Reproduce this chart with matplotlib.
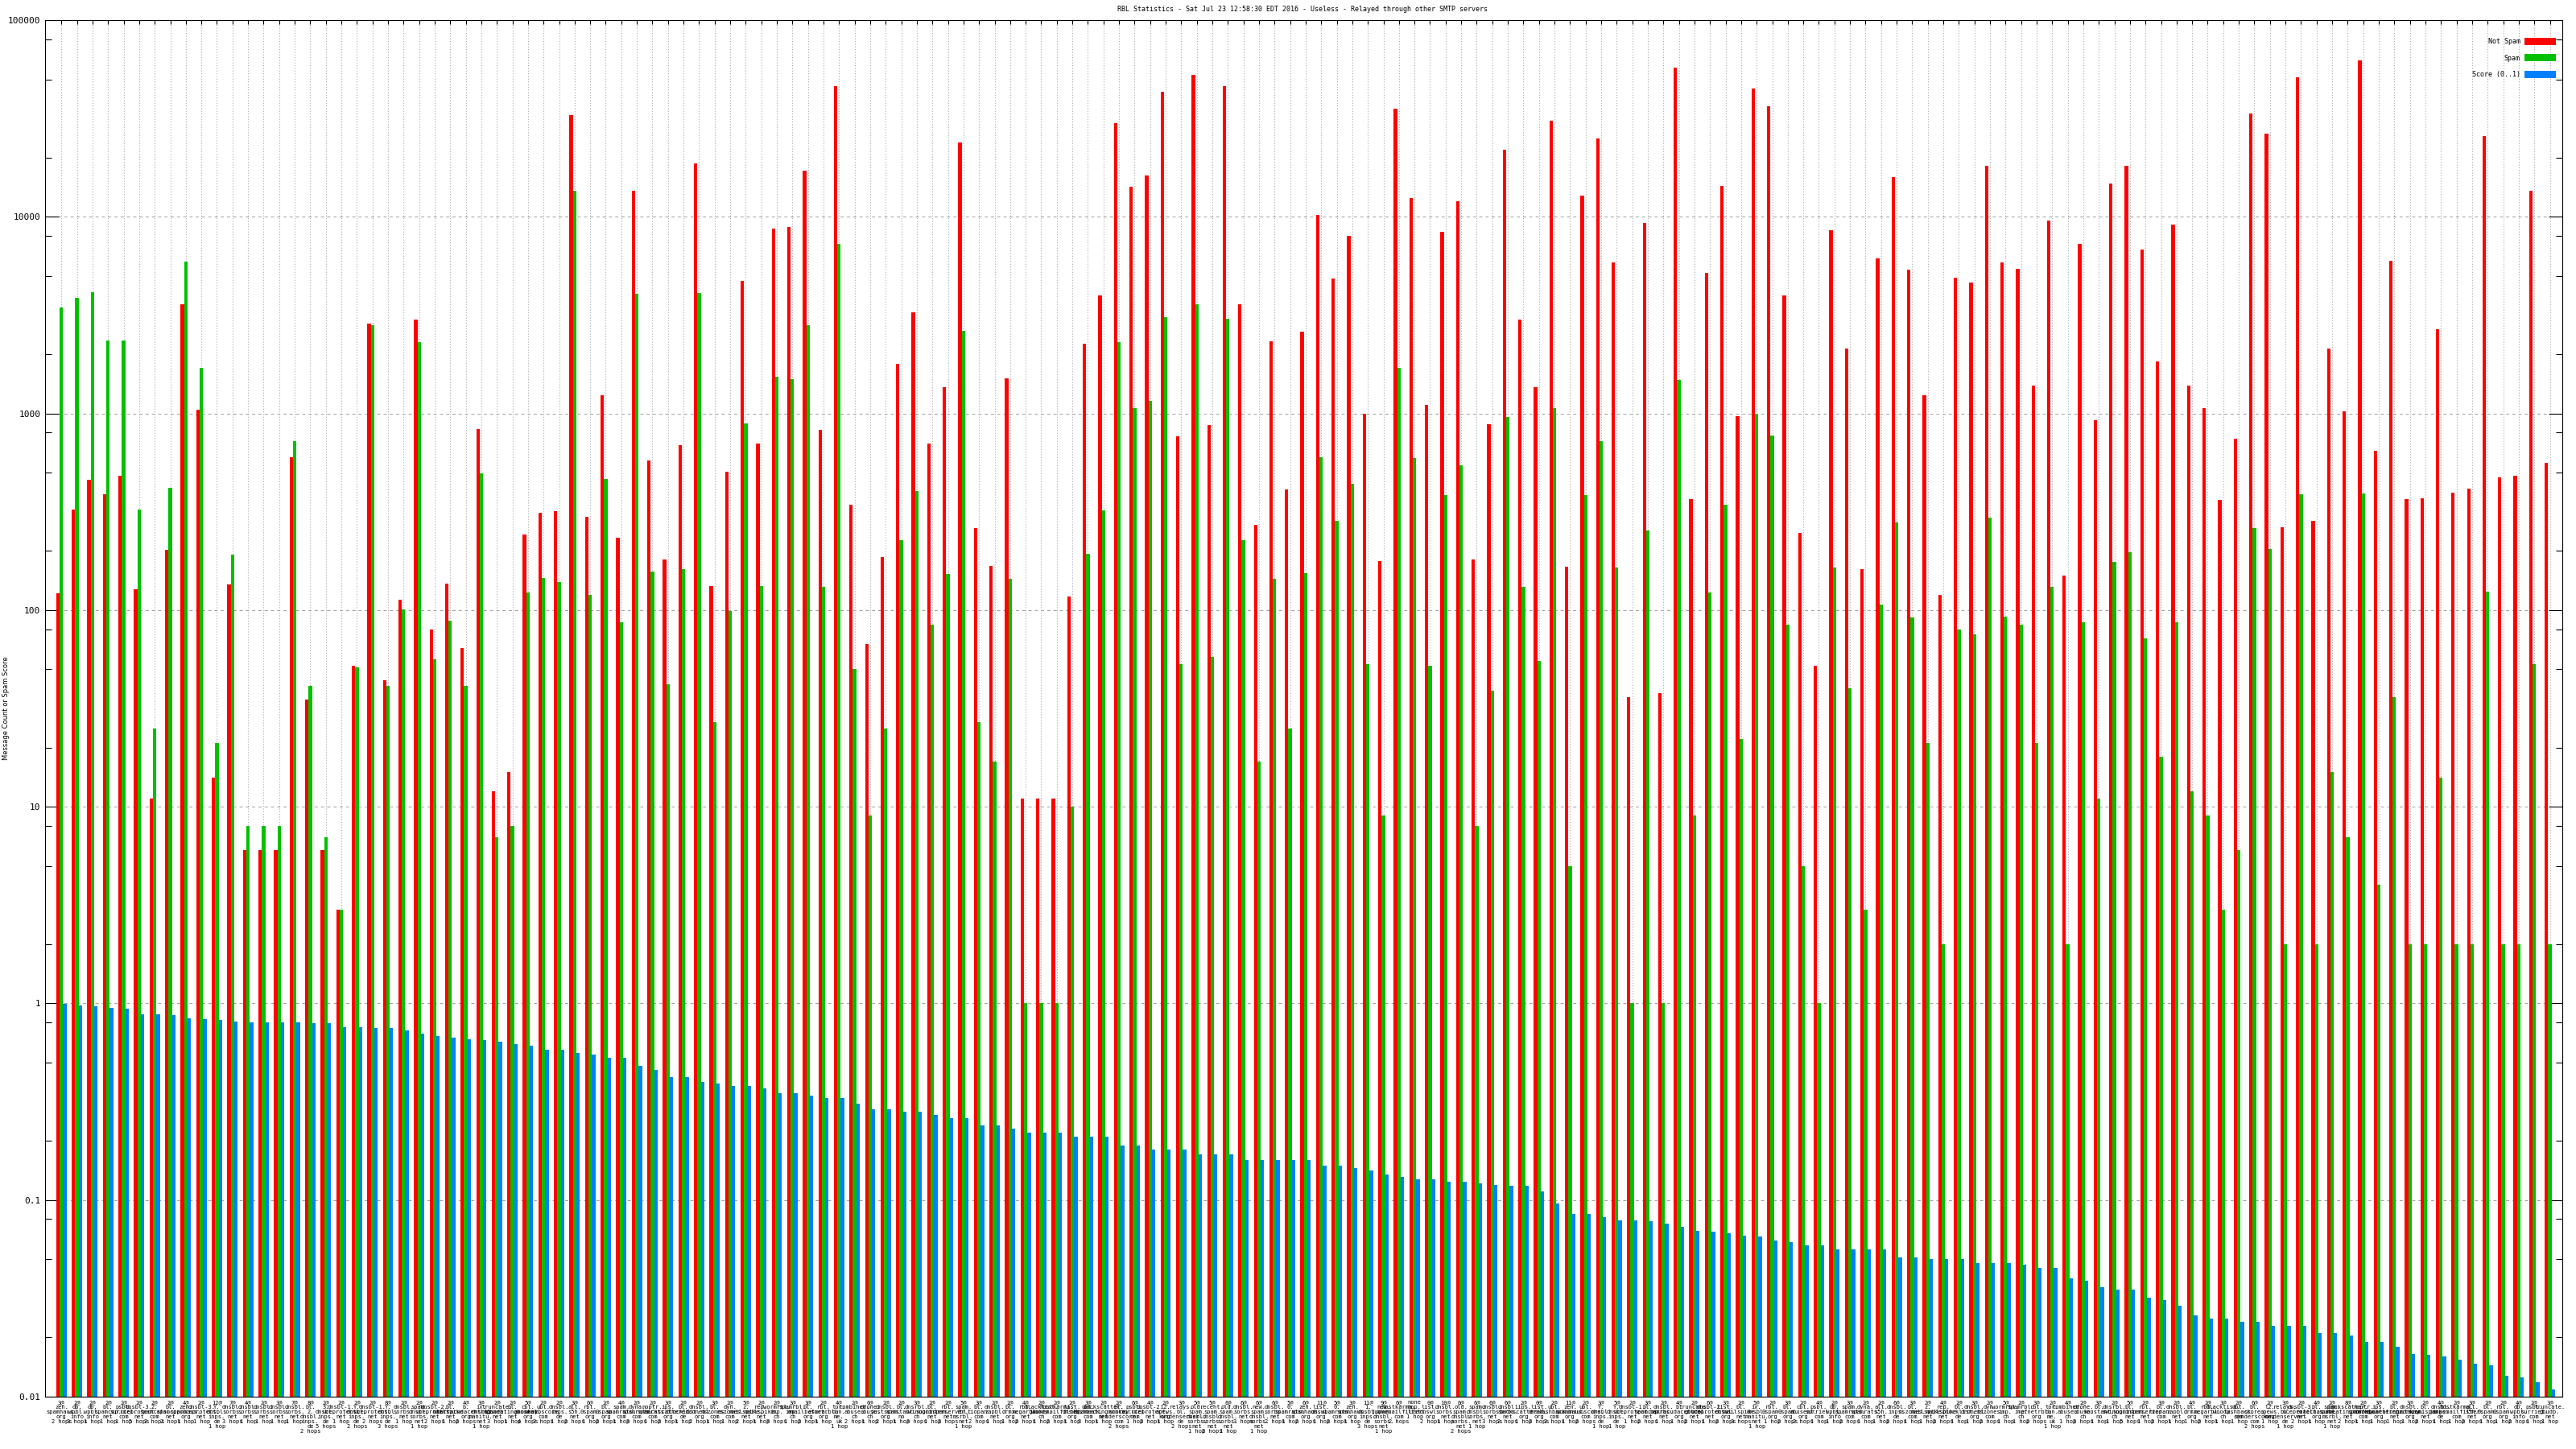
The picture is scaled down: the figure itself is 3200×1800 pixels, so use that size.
import numpy as np
import matplotlib
matplotlib.use('Agg')
import matplotlib.pyplot as plt
from matplotlib.ticker import LogLocator, FuncFormatter, NullFormatter

# RBL statistics, one group per list/threshold/hops combination
not_spam = [122, 324, 460, 388, 480, 128, 11, 202, 3600, 1040, 14, 135, 6, 6, 6, 600, 35, 6, 3, 52, 2870,
            44, 113, 2990, 80, 136, 64, 830, 12, 15, 243, 311, 318, 33000, 299, 1240, 233, 13500, 578, 180, 690, 18700, 132, 506,
            4710, 704, 8740, 8840, 17100, 822, 46100, 342, 67, 186, 1780, 3280, 704, 1360, 23800, 261, 168, 1510, 11, 11, 11, 117, 2260,
            3990, 29900, 14200, 16200, 43300, 764, 52700, 875, 46100, 3600, 272, 2330, 411, 2610, 10200, 4850, 7960, 1000, 178, 35600, 12400, 1100, 8390,
            12000, 180, 883, 21900, 2990, 1360, 30800, 166, 12800, 25000, 5850, 36, 9300, 38, 57300, 367, 5160, 14300, 970, 44700, 36400, 3990, 246,
            52, 8570, 2130, 161, 6150, 15900, 5380, 1240, 119, 4910, 4610, 18200, 5850, 5440, 1390, 9590, 150, 7260, 920, 14700, 18200, 6830, 1840, 9120,
            1380, 1060, 364, 741, 33500, 26400, 264, 51100, 284, 2130, 1020, 62200, 648, 5970, 367, 371, 2670, 395, 416, 25800, 475, 481, 13500, 561]

spam = [3460, 3880, 4150, 2340, 2350, 324, 25, 420, 5900, 1700, 21, 192, 8, 8, 8, 725, 41, 7, 3, 51, 2800,
        41, 101, 2310, 56, 88, 41, 495, 7, 8, 123, 145, 139, 13600, 119, 466, 87, 4070, 157, 42, 161, 4110, 27, 99,
        893, 132, 1530, 1500, 2810, 131, 7260, 50, 9, 25, 226, 403, 84, 153, 2640, 27, 17, 144, 1, 1, 1, 10, 194,
        321, 2310, 1060, 1160, 3080, 53, 3600, 58, 3020, 226, 17, 144, 25, 154, 597, 284, 438, 53, 9, 1710, 591, 52, 383,
        544, 8, 39, 960, 131, 55, 1060, 5, 383, 726, 164, 1, 253, 1, 1480, 9, 123, 342, 22, 1000, 773, 84, 5,
        1, 164, 40, 3, 107, 278, 92, 21, 2, 80, 75, 296, 93, 84, 21, 131, 2, 87, 11, 175, 196, 72, 18, 87,
        12, 9, 3, 6, 261, 204, 2, 387, 2, 15, 7, 391, 4, 36, 2, 2, 14, 2, 2, 124, 2, 2, 53, 2]

score = [0.99, 0.98, 0.97, 0.95, 0.94, 0.88, 0.88, 0.87, 0.84, 0.83, 0.82, 0.81, 0.80, 0.80, 0.80, 0.80, 0.79, 0.79, 0.76, 0.76, 0.75,
         0.75, 0.73, 0.70, 0.68, 0.67, 0.66, 0.65, 0.64, 0.62, 0.61, 0.58, 0.58, 0.56, 0.55, 0.53, 0.53, 0.48, 0.46, 0.42, 0.42, 0.40, 0.39, 0.38,
         0.38, 0.37, 0.35, 0.35, 0.34, 0.33, 0.33, 0.31, 0.29, 0.29, 0.28, 0.28, 0.27, 0.26, 0.26, 0.24, 0.24, 0.23, 0.22, 0.22, 0.22, 0.21, 0.21,
         0.21, 0.19, 0.19, 0.18, 0.18, 0.18, 0.17, 0.17, 0.17, 0.16, 0.16, 0.16, 0.16, 0.16, 0.15, 0.15, 0.145, 0.142, 0.135, 0.131, 0.128, 0.128, 0.124,
         0.124, 0.122, 0.119, 0.118, 0.118, 0.111, 0.096, 0.085, 0.085, 0.082, 0.079, 0.079, 0.078, 0.076, 0.073, 0.070, 0.069, 0.068, 0.066, 0.065, 0.062, 0.061, 0.059,
         0.059, 0.056, 0.056, 0.056, 0.056, 0.051, 0.051, 0.050, 0.050, 0.050, 0.048, 0.048, 0.048, 0.047, 0.045, 0.045, 0.040, 0.039, 0.036, 0.035, 0.035, 0.032, 0.031, 0.029,
         0.026, 0.025, 0.025, 0.024, 0.024, 0.023, 0.023, 0.023, 0.021, 0.021, 0.0205, 0.019, 0.019, 0.018, 0.0165, 0.0163, 0.016, 0.0155, 0.0147, 0.0145, 0.0128, 0.0125, 0.0118, 0.0109]

# "threshold zone hops"
groups = [
    '3@ zen.spamhaus.org 2', '2@ db.wpbl.info 3', '2@ db.wpbl.info 1', '2@ bl.spamcop.net 1', '2@ psbl.surriel.com 1',
    '2@ dnsbl-3.uceprotect.net 5', '2@ 2.spamrats.com 2', '2@ bl.spamcop.net 2', '4@ zen.spamhaus.org 1', '2@ dnsbl-3.uceprotect.net 1',
    '12@ Y.dnsbl.inps.de 1', '7@ dnsbl.sorbs.net 3', '4@ dnsbl.sorbs.net 1', '2@ dnsbl.sorbs.net 1', '3@ dnsbl.sorbs.net 1',
    '7@ dnsbl.sorbs.net 1', '8@ bl.2.dnsbl.inps.de 2', '2@ 3.dnsbl.inps.de 5', '2@ dnsbl-1.uceprotect.net 1', '2@ Y.dnsbl.inps.de 2',
    '2@ dnsbl-1.uceprotect.net 2', '8@ Y.dnsbl.inps.de 3', '2@ dnsbl.sorbs.net 1', '2@ spam.dnsbl.sorbs.net 1', '2@ dnsbl-2.uceprotect.net 2',
    '2@ bl.mailspike.net 1', '4@ b.barracudacentral.org 2', '3@ ix.dnsbl.manitu.net 1', '2@ truncate.gbudb.net 3', '2@ bl.spameatingmonkey.net 1',
    '5@ cbl.abuseat.org 4', '2@ ubl.unsubscore.com 2', '2@ dnsbl.inps.de 1', '3@ all.s5h.net 2', '6@ rbl.0spam.org 1',
    '2@ bl.0spam.org 2', '4@ spam.spamrats.com 1', '2@ dyna.spamrats.com 3', '2@ noptr.spamrats.com 1', '3@ ips.backscatterer.org 2',
    '2@ bl.blocklist.de 1', '2@ dnsbl.dronebl.org 2', '3@ bl.nszones.com 1', '2@ dyn.nszones.com 1', '5@ z.mailspike.net 2',
    '2@ rep.mailspike.net 1', '2@ wormrbl.imp.ch 3', '3@ spamrbl.imp.ch 1', '3@ bl.emailbasura.org 2', '2@ rbl.efnetrbl.org 1',
    '4@ tor.dan.me.uk 1', '2@ combined.abuse.ch 2', '6@ drone.abuse.ch 1', '2@ dnsbl.justspam.org 2', '2@ bl.konstant.no 1',
    '3@ dnsrbl.swinog.ch 3', '2@ bl.suomispam.net 1', '2@ rbl.interserver.net 2', '5@ spam.rbl.msrbl.net 1', '3@ bl.tiopan.com 2',
    '2@ dnsbl.zapbl.net 1', '2@ bl.drmx.org 1', '4@ rbl.megarbl.net 2', '2@ blacklist.woody.ch 1', '2@ hostkarma.junkemailfilter.com 2',
    '2@ list.dnswl.org 1', '3@ ubl.lashback.com 3', '2@ backscatter.spameatingmonkey.net 1', '2@ bl.score.senderscore.com 2', '6@ psbl.surriel.com 1',
    '4@ dnsbl-2.uceprotect.net 2', '2@ l2.apews.org 1', '3@ relays.bl.kundenserver.de 2', '5@ old.spam.dnsbl.sorbs.net 1', '5@ recent.spam.dnsbl.sorbs.net 2',
    '6@ old.spam.dnsbl.sorbs.net 1', '6@ dnsbl.sorbs.net 3', '6@ new.spam.dnsbl.sorbs.net 1', '6@ dnsbl.sorbs.net 2', '5@ 0.spamrats.com 1',
    '6@ zen.spamhaus.org 2', '11@ list.dnswl.org 1', '5@ 0.spamrats.com 2', '3@ zen.spamhaus.org 1', '11@ 1.dnsbl.inps.de 3',
    '9@ new.spam.dnsbl.sorbs.net 1', '6@ hostkarma.junkemailfilter.com 2', 'none hop.list 1', '0@ list.dnswl.org 2', '10@ dnsbl.sorbs.net 1',
    '6@ old.spam.dnsbl.sorbs.net 2', '6@ spam.dnsbl.sorbs.net 1', '6@ dnsbl.sorbs.net 3', '6@ dnsbl.sorbs.net 2', '2@ lips.backscatterer.org 1',
    '0@ list.dnswl.org 2', '2@ ubl.lashback.com 2', '11@ zen.spamhaus.org 1', '2@ ubl.unsubscore.com 2', '3@ Y.dnsbl.inps.de 1',
    '5@ Y.dnsbl.inps.de 1', '2@ dnsbl-1.uceprotect.net 1', '3@ bl.spamcop.net 2', '2@ dnsbl.sorbs.net 1', '4@ b.barracudacentral.org 1',
    '2@ truncate.gbudb.net 2', '6@ dnsbl-2.uceprotect.net 1', '3@ list.dnswl.org 2', '2@ bl.mailspike.net 3', '5@ ix.dnsbl.manitu.net 1',
    '2@ rbl.0spam.org 1', '3@ bl.0spam.org 2', '2@ cbl.abuseat.org 2', '4@ psbl.surriel.com 1', '2@ db.wpbl.info 1',
    '3@ spam.spamrats.com 2', '2@ dyna.spamrats.com 1', '2@ all.s5h.net 1', '6@ dnsbl.inps.de 2', '3@ bl.nszones.com 1',
    '2@ z.mailspike.net 1', '4@ rep.mailspike.net 2', '2@ bl.blocklist.de 1', '3@ dnsbl.dronebl.org 1', '2@ dyn.nszones.com 2',
    '5@ wormrbl.imp.ch 1', '2@ spamrbl.imp.ch 1', '3@ rbl.efnetrbl.org 2', '2@ tor.dan.me.uk 1', '4@ combined.abuse.ch 1',
    '2@ drone.abuse.ch 2', '3@ bl.konstant.no 1', '2@ dnsrbl.swinog.ch 1', '5@ bl.suomispam.net 5', '2@ rbl.interserver.net 1',
    '3@ bl.tiopan.com 2', '2@ dnsbl.zapbl.net 1', '4@ bl.drmx.org 1', '2@ rbl.megarbl.net 2', '3@ blacklist.woody.ch 1',
    '2@ ubl.lashback.com 1', '6@ bl.score.senderscore.com 2', '2@ l2.apews.org 1', '3@ relays.bl.kundenserver.de 1', '2@ dnsbl-3.uceprotect.net 2',
    '4@ bl.emailbasura.org 1', '2@ spam.rbl.msrbl.net 1', '8@ backscatter.spameatingmonkey.net 2', '2@ noptr.spamrats.com 1', '3@ ips.backscatterer.org 1',
    '2@ bl.spameatingmonkey.net 1', '3@ dnsbl.justspam.org 1', '2@ bl.suomispam.net 2', '4@ dnsbl.inps.de 1', '2@ hostkarma.junkemailfilter.com 1',
    '3@ all.s5h.net 2', '2@ bl.0spam.org 1', '2@ rbl.0spam.org 1', '4@ db.wpbl.info 2', '2@ psbl.surriel.com 1',
    '3@ truncate.gbudb.net 1',
]


def make_label(s):
    thr, zone, hops = s.split(' ')
    parts = zone.split('.')
    lines = [thr] + [p + '.' for p in parts[:-1]] + [parts[-1]]
    lines.append(hops + (' hop' if hops == '1' else ' hops'))
    return '\n'.join(lines)


labels = [make_label(s) for s in groups]
n = len(labels)
x = np.arange(n)
w = 0.222

mono = 'DejaVu Sans Mono'
fig = plt.figure(figsize=(32, 18), dpi=100)
ax = fig.add_axes([56 / 3200, 65 / 1800, (3183 - 56) / 3200, (1735 - 25) / 1800])

ax.bar(x - w, not_spam, w, color='#ff0000', linewidth=0, label='Not Spam')
ax.bar(x, spam, w, color='#00c000', linewidth=0, label='Spam')
ax.bar(x + w, score, w, color='#0080ff', linewidth=0, label='Score (0..1)')

ax.set_yscale('log')
ax.set_ylim(0.01, 100000)
ax.set_xlim(-1.05, n - 1 + 0.8)

ax.yaxis.set_major_locator(LogLocator(base=10, numticks=12))
ax.yaxis.set_minor_locator(LogLocator(base=10, subs=(2, 5, 8), numticks=30))
ax.yaxis.set_major_formatter(FuncFormatter(lambda v, p: '%g' % v))
ax.yaxis.set_minor_formatter(NullFormatter())
ax.tick_params(axis='y', which='major', direction='in', length=12, width=0.8,
               right=True, labelsize=8, pad=4)
ax.tick_params(axis='y', which='minor', direction='in', length=6, width=0.8, right=True)
for t in ax.get_yticklabels():
    t.set_family(mono)

ax.set_xticks(x)
ax.set_xticklabels(labels, fontsize=5, family=mono, linespacing=1.0)
ax.tick_params(axis='x', direction='in', length=3.6, width=0.8, top=True, pad=3)

ax.set_axisbelow(True)
ax.yaxis.grid(True, which='major', color='#a0a0a0', linestyle=(0, (4, 4)), linewidth=0.7)
ax.xaxis.grid(True, color='#a8a8a8', linestyle=(0, (1, 2)), linewidth=0.8)
for sp in ax.spines.values():
    sp.set_linewidth(0.8)

fig.text(1618 / 3200, 1 - 11 / 1800,
         'RBL Statistics - Sat Jul 23 12:58:30 EDT 2016 - Useless - Relayed through other SMTP servers',
         ha='center', va='center', fontsize=6, family=mono)
fig.text(8 / 3200, 1 - 880 / 1800, 'Message Count or Spam Score', rotation=90,
         ha='center', va='center', fontsize=6)

ax.legend(loc='upper right', bbox_to_anchor=(3175 / 3200, 1 - 47 / 1800),
          bbox_transform=fig.transFigure, frameon=False, markerfirst=False,
          prop={'family': mono, 'size': 6}, handlelength=4.7, handleheight=1.3,
          labelspacing=1.32, handletextpad=0.6, borderpad=0, borderaxespad=0)

fig.savefig('out.png', dpi=100)
